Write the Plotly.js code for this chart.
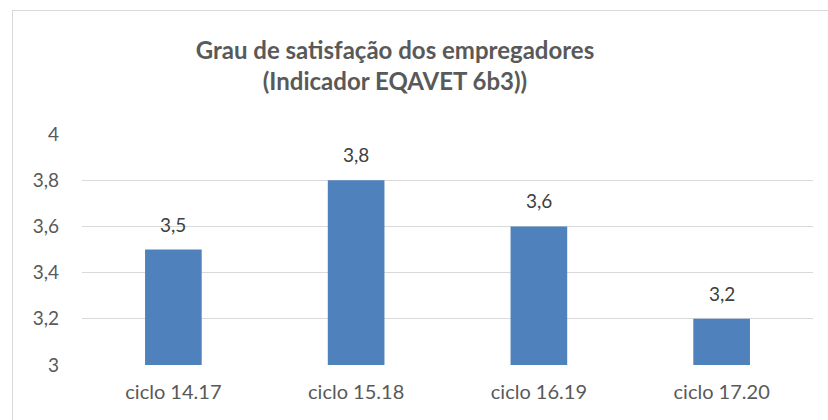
<!DOCTYPE html>
<html><head><meta charset="utf-8">
<script src="https://cdn.plot.ly/plotly-3.0.1.min.js"></script>
<style>
html,body{margin:0;padding:0;background:#fff;}
#wrap{position:relative;width:828px;height:420px;overflow:hidden;}
#chart{width:828px;height:420px;}
#frame{position:absolute;left:12px;top:10px;width:830px;height:420px;border-left:1px solid #d9d9d9;border-top:1px solid #d9d9d9;pointer-events:none;}
</style></head>
<body>
<div id="wrap"><div id="chart"></div><div id="frame"></div></div>
<script>
var categories = ["ciclo 14.17", "ciclo 15.18", "ciclo 16.19", "ciclo 17.20"];
var values = [3.5, 3.8, 3.6, 3.2];
var labels = ["3,5", "3,8", "3,6", "3,2"];
var yTicks = [3, 3.2, 3.4, 3.6, 3.8, 4];
var yTickText = ["3", "3,2", "3,4", "3,6", "3,8", "4"];
var titleText = "Grau de satisfação dos empregadores<br>(Indicador EQAVET 6b3))";

var font = "Lato, 'Open Sans', sans-serif";
var trace = {
  type: "bar", x: categories, y: values,
  marker: {color: "#4f81bd", line: {width: 0}},
  hoverinfo: "none"
};
var annotations = categories.map(function(c, i){
  return {x: c, y: values[i], xref: "x", yref: "y", text: labels[i], showarrow: false,
    yanchor: "bottom", yshift: 12, font: {family: font, size: 19, color: "#404040"}};
});
var layout = {
  width: 828, height: 420,
  margin: {l: 82, r: 15, t: 134, b: 55},
  paper_bgcolor: "#fff", plot_bgcolor: "#fff",
  bargap: 0.69,
  showlegend: false,
  title: {text: titleText, x: 0.477, xanchor: "center", y: 0.86, yanchor: "top",
    font: {family: font, size: 24, color: "#595959", weight: "bold"}},
  xaxis: {showgrid: false, zeroline: false, showline: false, ticks: "",
    tickfont: {family: font, size: 20, color: "#595959"}, ticklabelstandoff: 13, fixedrange: true},
  yaxis: {range: [3, 4], tickvals: yTicks, ticktext: yTickText, showgrid: true, gridcolor: "#d9d9d9", gridwidth: 1,
    zeroline: false, showline: false, ticks: "", ticklabelstandoff: 22,
    tickfont: {family: font, size: 19, color: "#595959"}, fixedrange: true},
  annotations: annotations
};
Plotly.newPlot("chart", [trace], layout, {staticPlot: true, displayModeBar: false});
</script>
</body></html>
